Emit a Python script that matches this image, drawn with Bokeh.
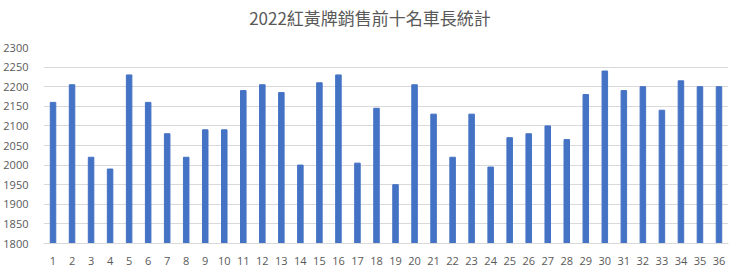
from bokeh.plotting import figure
from bokeh.models import FactorRange, Range1d, FixedTicker, Div
from bokeh.layouts import column
from bokeh.embed import file_html
from bokeh.resources import INLINE

categories = [str(i) for i in range(1, 37)]
values = [2160, 2205, 2020, 1990, 2230, 2160, 2080, 2020, 2090, 2090,
          2190, 2205, 2185, 2000, 2210, 2230, 2005, 2145, 1950, 2205,
          2130, 2020, 2130, 1995, 2070, 2080, 2100, 2065, 2180, 2240,
          2190, 2200, 2140, 2215, 2200, 2200]
y_ticks = list(range(1800, 2301, 50))
title_text = "2022紅黃牌銷售前十名車長統計"

title = Div(text=title_text, width=740, height=36, margin=0,
            styles={"text-align": "center", "width": "740px",
                    "font-family": "'Noto Sans CJK TC'", "font-size": "17px",
                    "line-height": "36px", "color": "#595959"})

p = figure(width=740, height=237, output_backend="svg", toolbar_location=None,
           x_range=FactorRange(factors=categories, range_padding=0),
           y_range=Range1d(1800, 2300),
           min_border_left=41, min_border_right=12, min_border_top=11, min_border_bottom=30)

p.vbar(x=categories, top=values, bottom=1800, width=0.29, color="#4472C4")

p.outline_line_color = None
p.background_fill_color = "white"
p.border_fill_color = "white"

p.xgrid.grid_line_color = None
p.ygrid.grid_line_color = "#d9d9d9"
p.ygrid.grid_line_width = 1
p.yaxis.ticker = FixedTicker(ticks=y_ticks)

for ax in (p.xaxis[0], p.yaxis[0]):
    ax.major_tick_line_color = None
    ax.minor_tick_line_color = None
    ax.major_label_text_font = "Open Sans"
    ax.major_label_text_font_size = "11px"
    ax.major_label_text_color = "#595959"

p.yaxis.axis_line_color = None
p.yaxis.major_label_standoff = 9
p.xaxis.axis_line_color = "#d9d9d9"
p.xaxis.major_label_standoff = 7

layout = column(title, p, spacing=0)
open("out.html", "w").write(file_html(layout, INLINE))
